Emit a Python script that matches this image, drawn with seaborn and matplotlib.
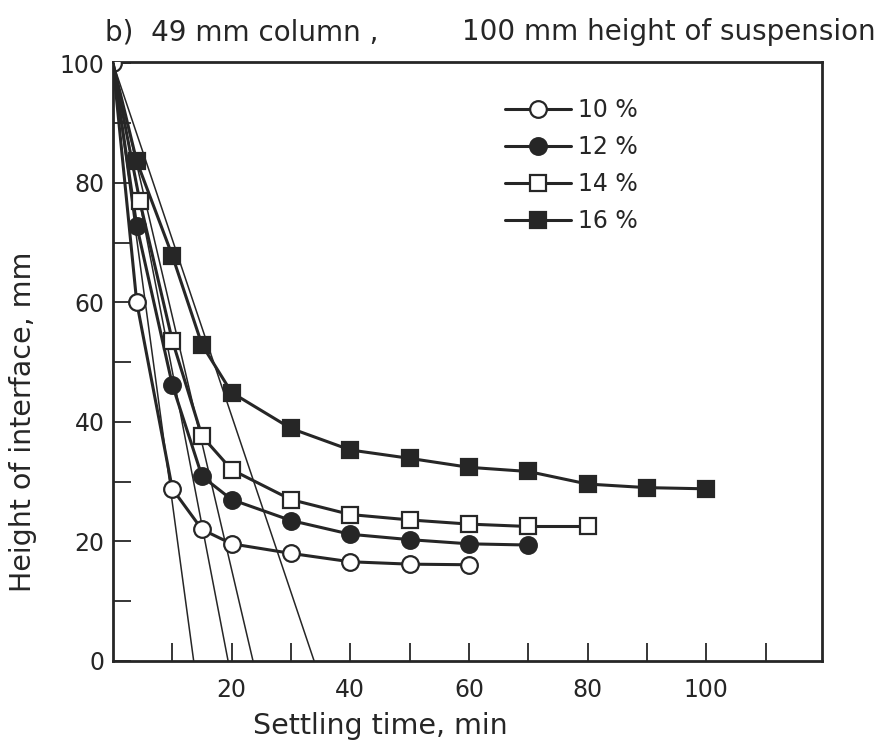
import numpy as np
import pandas as pd
import matplotlib
matplotlib.use("Agg")
import matplotlib.pyplot as plt
from matplotlib.ticker import FixedLocator
import seaborn as sns

# values
labels = ['10 %', '12 %', '14 %', '16 %']
t_10 = [0, 4, 10, 15, 20, 30, 40, 50, 60]
h_10 = [100, 60, 28.8, 22.0, 19.6, 18.0, 16.6, 16.2, 16.1]
t_12 = [0, 4, 10, 15, 20, 30, 40, 50, 60, 70]
h_12 = [100, 72.8, 46.2, 30.9, 27.0, 23.5, 21.2, 20.3, 19.6, 19.4]
t_14 = [0, 4.5, 10, 15, 20, 30, 40, 50, 60, 70, 80]
h_14 = [100, 77.0, 53.6, 37.6, 32.0, 27.0, 24.5, 23.6, 22.9, 22.5, 22.5]
t_16 = [0, 4, 10, 15, 20, 30, 40, 50, 60, 70, 80, 90, 100]
h_16 = [100, 83.6, 67.8, 52.9, 44.9, 38.9, 35.3, 33.9, 32.4, 31.7, 29.6, 29.0, 28.8]
# tangents drawn from (0, 100) down to the time axis
tangent_h0 = 100
tangent_t_end = [13.6, 19.4, 23.6, 33.9]

df = pd.concat([
    pd.DataFrame({'t': t_10, 'h': h_10, 'c': labels[0]}),
    pd.DataFrame({'t': t_12, 'h': h_12, 'c': labels[1]}),
    pd.DataFrame({'t': t_14, 'h': h_14, 'c': labels[2]}),
    pd.DataFrame({'t': t_16, 'h': h_16, 'c': labels[3]}),
])

sns.set_style("ticks")
plt.rcParams['font.family'] = ['DejaVu Sans']
ink = '#262626'

fig = plt.figure(figsize=(8.89, 7.4), dpi=100)
ax = fig.add_axes([113 / 889, 1 - 661 / 740, 709 / 889, 599 / 740])

# tangent lines
for te in tangent_t_end:
    ax.plot([0, te], [tangent_h0, 0], color=ink, lw=1.1, zorder=2)

styles = {
    '10 %': dict(marker='o', markerfacecolor='white', markersize=12),
    '12 %': dict(marker='o', markerfacecolor=ink, markersize=12),
    '14 %': dict(marker='s', markerfacecolor='white', markersize=11.5),
    '16 %': dict(marker='s', markerfacecolor=ink, markersize=12),
}
for lab in labels:
    sub = df[df['c'] == lab]
    st = styles[lab]
    sns.lineplot(data=sub, x='t', y='h', ax=ax, color=ink, lw=2.2,
                 marker=st['marker'], markerfacecolor=st['markerfacecolor'],
                 markeredgecolor=ink, markeredgewidth=1.6,
                 markersize=st['markersize'], label=lab, zorder=3,
                 markevery=(slice(0, None) if lab == '10 %' else slice(1, None)))

ax.set_xlim(0, 119.5)
ax.set_ylim(0, 100.2)
ax.xaxis.set_major_locator(FixedLocator([20, 40, 60, 80, 100]))
ax.xaxis.set_minor_locator(FixedLocator([10, 30, 50, 70, 90, 110]))
ax.yaxis.set_major_locator(FixedLocator([0, 20, 40, 60, 80, 100]))
ax.yaxis.set_minor_locator(FixedLocator([10, 30, 50, 70, 90]))
ax.tick_params(which='both', direction='in', length=13, width=1.3, color=ink,
               labelsize=17, labelcolor=ink)
ax.tick_params(axis='x', pad=12)
ax.tick_params(axis='y', pad=6)
for s in ax.spines.values():
    s.set_visible(True)
    s.set_linewidth(2)
    s.set_color(ink)

ax.set_xlabel('Settling time, min', fontsize=20.5, color=ink)
ax.set_ylabel('Height of interface, mm', fontsize=20.5, color=ink)
ax.xaxis.set_label_coords(0.377, -0.085)
ax.yaxis.set_label_coords(-0.107, 0.40)

leg = ax.legend(loc='upper left', bbox_to_anchor=(0.553, 0.94), frameon=False,
                fontsize=17, handlelength=2.8, handletextpad=0.3,
                labelspacing=0.55, borderaxespad=0, borderpad=0)
for txt in leg.get_texts():
    txt.set_color(ink)

fig.text(105 / 889, 1 - 40 / 740, 'b)  49 mm column ,', fontsize=20,
         color=ink, va='baseline', ha='left')
fig.text(462 / 889, 1 - 40 / 740, '100 mm height of suspension', fontsize=20,
         color=ink, va='baseline', ha='left')

fig.savefig('out.png', dpi=100, facecolor='white')
